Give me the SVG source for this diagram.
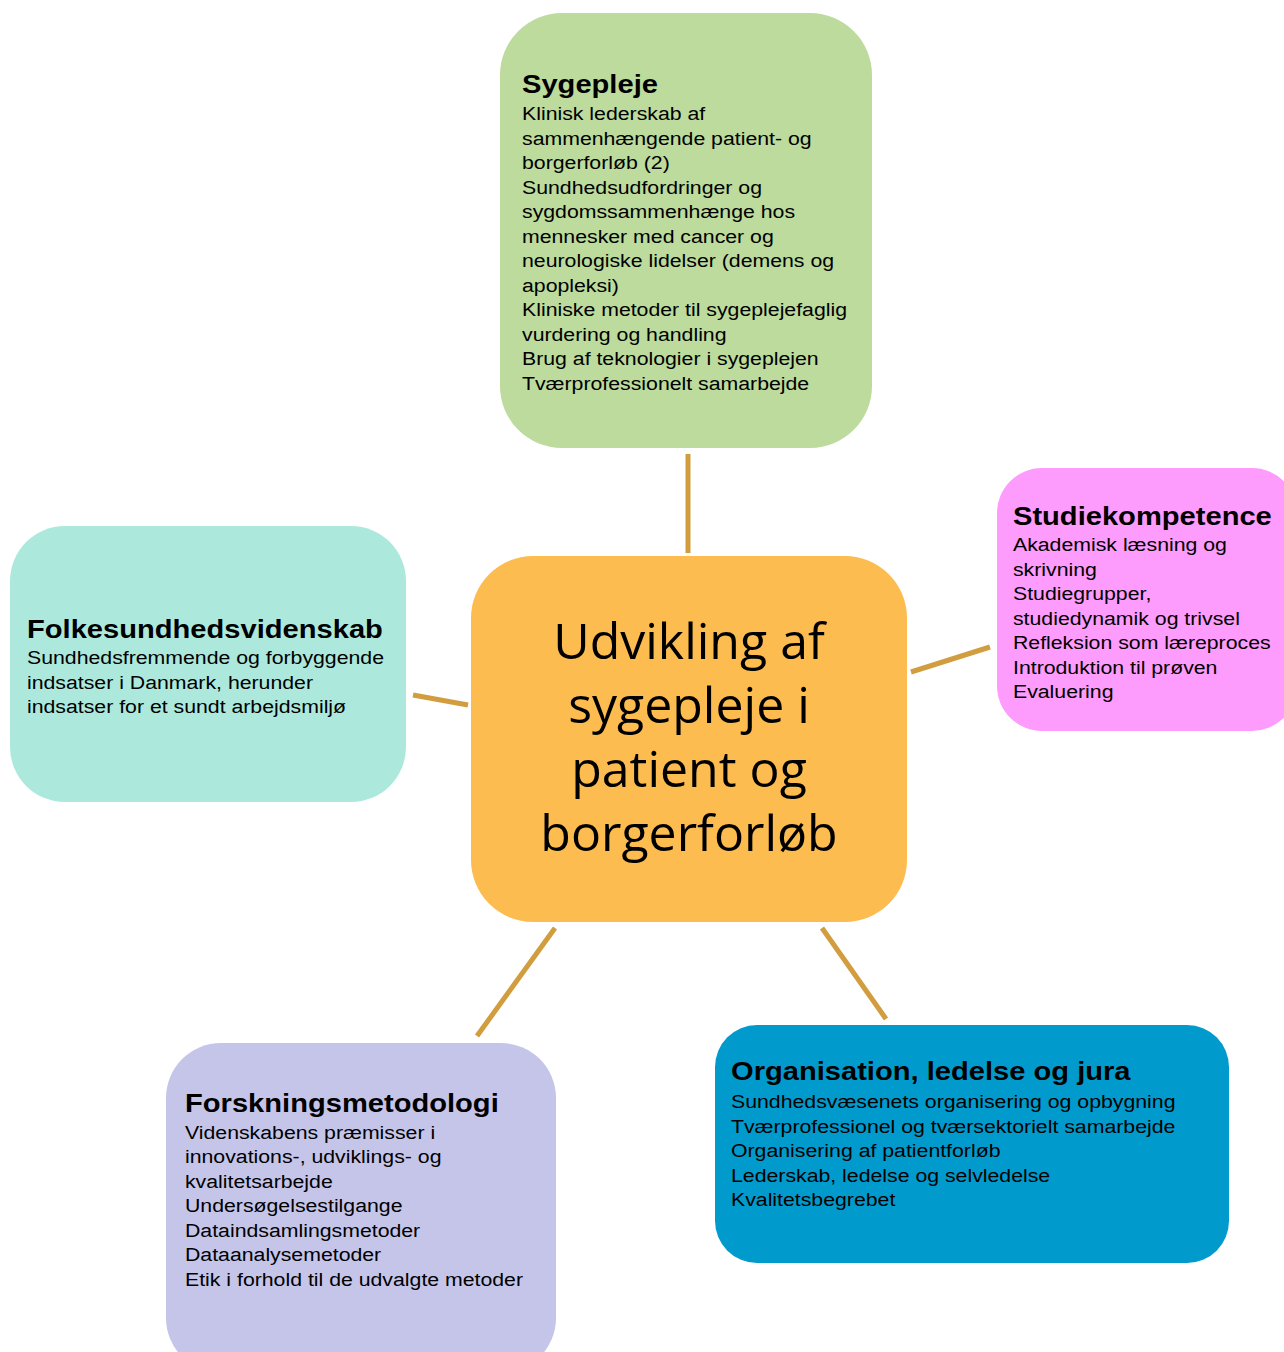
<svg xmlns="http://www.w3.org/2000/svg" width="1284" height="1352" viewBox="0 0 1284 1352">
<style>
.h{font-family:"Liberation Sans",Arial,sans-serif;font-weight:bold;font-size:26px;fill:#000}
.b{font-family:"Liberation Sans",Arial,sans-serif;font-size:19px;fill:#000}
.c{font-family:"Open Sans","Noto Sans",sans-serif;font-size:50px;fill:#000;text-anchor:middle}
.ln{stroke:#D19D3F;stroke-width:5;fill:none}
</style>
<rect width="1284" height="1352" fill="#fff"/>
<g id="connectors">
<line class="ln" x1="688" y1="454" x2="688" y2="553"/>
<line class="ln" x1="911" y1="672" x2="990" y2="647"/>
<line class="ln" x1="413" y1="695" x2="468" y2="705"/>
<line class="ln" x1="555" y1="928" x2="477" y2="1036"/>
<line class="ln" x1="822" y1="928" x2="886" y2="1019"/>
</g>
<g id="center">
<rect x="471" y="556" width="436" height="366" rx="62" fill="#FDBC4F"/>
<text class="c" x="689" y="659">Udvikling af</text>
<text class="c" x="689" y="723">sygepleje i</text>
<text class="c" x="689" y="787">patient og</text>
<text class="c" x="689" y="851">borgerforløb</text>
</g>
<g id="sygepleje">
<rect x="500" y="13" width="372" height="435" rx="62" fill="#BCDB9C"/>
<g transform="matrix(1.12,0,0,1,-62.64,0)">
<text class="h" x="522" y="93">Sygepleje</text>
<text class="b" x="522" y="120">Klinisk lederskab af</text>
<text class="b" x="522" y="145">sammenhængende patient- og</text>
<text class="b" x="522" y="169">borgerforløb (2)</text>
<text class="b" x="522" y="194">Sundhedsudfordringer og</text>
<text class="b" x="522" y="218">sygdomssammenhænge hos</text>
<text class="b" x="522" y="243">mennesker med cancer og</text>
<text class="b" x="522" y="267">neurologiske lidelser (demens og</text>
<text class="b" x="522" y="292">apopleksi)</text>
<text class="b" x="522" y="316">Kliniske metoder til sygeplejefaglig</text>
<text class="b" x="522" y="341">vurdering og handling</text>
<text class="b" x="522" y="365">Brug af teknologier i sygeplejen</text>
<text class="b" x="522" y="390">Tværprofessionelt samarbejde</text>
</g>
</g>
<g id="studiekompetence">
<rect x="997" y="468" width="300" height="263" rx="45" fill="#FD9CFC"/>
<g transform="matrix(1.12,0,0,1,-121.56,0)">
<text class="h" x="1013" y="525">Studiekompetence</text>
<text class="b" x="1013" y="551">Akademisk læsning og</text>
<text class="b" x="1013" y="576">skrivning</text>
<text class="b" x="1013" y="600">Studiegrupper,</text>
<text class="b" x="1013" y="625">studiedynamik og trivsel</text>
<text class="b" x="1013" y="649">Refleksion som læreproces</text>
<text class="b" x="1013" y="674">Introduktion til prøven</text>
<text class="b" x="1013" y="698">Evaluering</text>
</g>
</g>
<g id="folkesundhed">
<rect x="10" y="526" width="396" height="276" rx="55" fill="#ACE9DC"/>
<g transform="matrix(1.12,0,0,1,-3.24,0)">
<text class="h" x="27" y="638">Folkesundhedsvidenskab</text>
<text class="b" x="27" y="664">Sundhedsfremmende og forbyggende</text>
<text class="b" x="27" y="689">indsatser i Danmark, herunder</text>
<text class="b" x="27" y="713">indsatser for et sundt arbejdsmiljø</text>
</g>
</g>
<g id="forskning">
<rect x="166" y="1043" width="390" height="330" rx="55" fill="#C5C5EA"/>
<g transform="matrix(1.12,0,0,1,-22.2,0)">
<text class="h" x="185" y="1112">Forskningsmetodologi</text>
<text class="b" x="185" y="1139">Videnskabens præmisser i</text>
<text class="b" x="185" y="1163">innovations-, udviklings- og</text>
<text class="b" x="185" y="1188">kvalitetsarbejde</text>
<text class="b" x="185" y="1212">Undersøgelsestilgange</text>
<text class="b" x="185" y="1237">Dataindsamlingsmetoder</text>
<text class="b" x="185" y="1261">Dataanalysemetoder</text>
<text class="b" x="185" y="1286">Etik i forhold til de udvalgte metoder</text>
</g>
</g>
<g id="organisation">
<rect x="715" y="1025" width="514" height="238" rx="42" fill="#009BCC"/>
<g transform="matrix(1.12,0,0,1,-87.72,0)">
<text class="h" x="731" y="1080">Organisation, ledelse og jura</text>
<text class="b" x="731" y="1108">Sundhedsvæsenets organisering og opbygning</text>
<text class="b" x="731" y="1133">Tværprofessionel og tværsektorielt samarbejde</text>
<text class="b" x="731" y="1157">Organisering af patientforløb</text>
<text class="b" x="731" y="1182">Lederskab, ledelse og selvledelse</text>
<text class="b" x="731" y="1206">Kvalitetsbegrebet</text>
</g>
</g>
</svg>
